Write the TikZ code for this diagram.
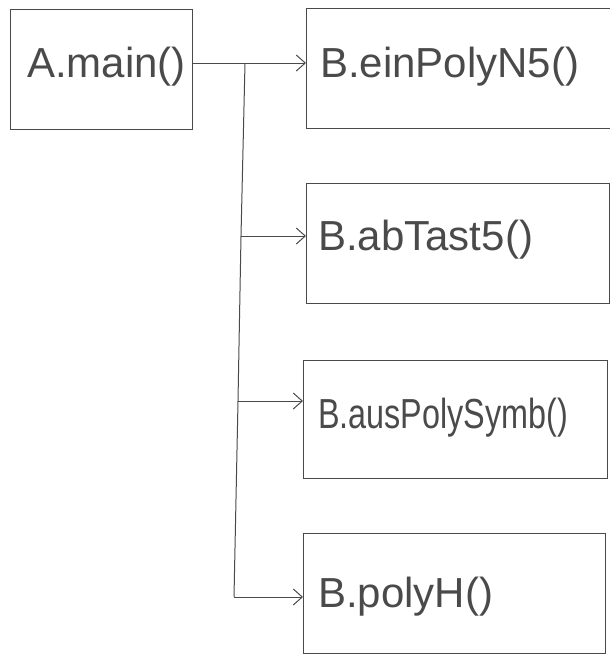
\documentclass[tikz,border=0pt]{standalone}
\usepackage{fontspec}
\setmainfont{Liberation Sans}
\usetikzlibrary{arrows.meta}
\definecolor{ink}{HTML}{4A4A4A}
\tikzset{
  box/.style={draw=ink, line width=1pt, anchor=north west, inner sep=0pt},
  lbl/.style={anchor=base west, inner sep=0pt, text=ink, font=\fontsize{42}{44}\selectfont},
  conn/.style={draw=ink, line width=1pt},
  arr/.style={conn, -{Straight Barb[length=9pt,width=16pt,line width=1pt]}}
}
\begin{document}
\begin{tikzpicture}[x=1pt,y=-1pt]
\useasboundingbox (0,0) rectangle (610,657);
% boxes
\node[box, minimum width=182pt, minimum height=120pt] (A) at (10,9) {};
\node[box, minimum width=304pt, minimum height=120pt] (B1) at (306,8) {};
\node[box, minimum width=303pt, minimum height=120pt] (B2) at (306,183) {};
\node[box, minimum width=304pt, minimum height=118pt] (B3) at (303,360) {};
\node[box, minimum width=302pt, minimum height=120pt] (B4) at (303,533) {};
% labels
\node[lbl] (tA) at (27,77) {A.main()};
\node[lbl] (t1) at (320,77) {B.einPolyN5()};
\node[lbl] (t2) at (318,250) {B.abTast5()};
\node[lbl] (t3) at (318,428) {\scalebox{0.77}[1]{B.ausPolySymb()}};
\node[lbl] (t4) at (318,607) {B.polyH()};
% trunk
\coordinate (j1) at (245,63);
\coordinate (j2) at (241,236);
\coordinate (j3) at (238,401);
\coordinate (j4) at (234,597);
\draw[conn] (j1) -- (j2) -- (j3) -- (j4);
% arrows
\draw[arr] (A.east |- j1) -- (B1.west |- j1);
\draw[arr] (j2) -- (B2.west |- j2);
\draw[arr] (j3) -- (B3.west |- j3);
\draw[arr] (j4) -- (B4.west |- j4);
\end{tikzpicture}
\end{document}
